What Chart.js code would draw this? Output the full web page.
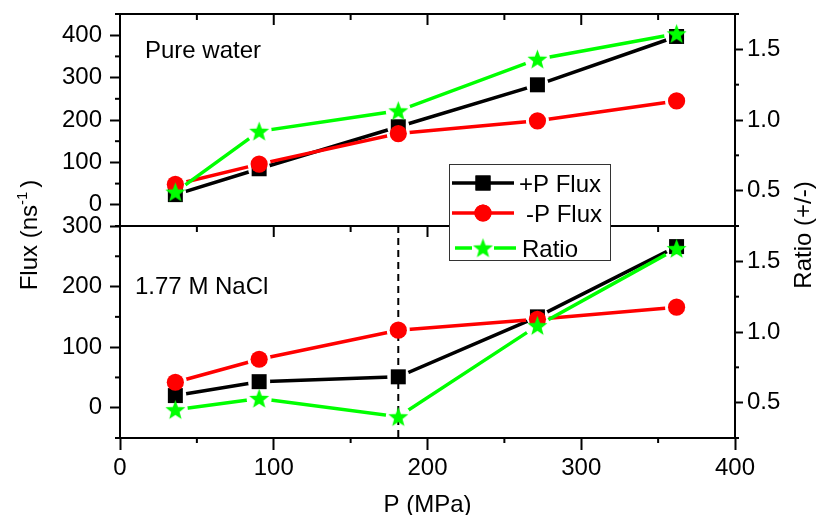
<!DOCTYPE html>
<html>
<head>
<meta charset="utf-8">
<script src="https://cdn.jsdelivr.net/npm/chart.js@4.4.1/dist/chart.umd.min.js"></script>
<style>
  html, body { margin: 0; padding: 0; background: #fff; }
  #wrap { width: 820px; height: 515px; }
</style>
</head>
<body>
<div id="wrap"><canvas id="chart" width="820" height="515"></canvas></div>
<script>
// pressure values (MPa) shared by both panels
const pressure = [36, 90.5, 181, 271.5, 362];

// top panel: pure water
const pureFluxPlus = [24, 85, 184, 283, 397];
const pureFluxMinus = [48, 96, 168, 198, 245];
const pureRatio = [0.49, 0.92, 1.065, 1.43, 1.61];

// bottom panel: 1.77 M NaCl
const naclFluxPlus = [20, 43, 51, 150, 266];
const naclFluxMinus = [42, 80, 128, 146, 166];
const naclRatio = [0.45, 0.53, 0.40, 1.045, 1.59];

const xTicks = [0, 100, 200, 300, 400];
const fluxTicksTop = [0, 100, 200, 300, 400];
const fluxTicksBottom = [0, 100, 200, 300];
const ratioTicks = [0.5, 1.0, 1.5];
const markerP = 181; // dashed guide in the NaCl panel

const FONT = '"Liberation Sans", Arial, Helvetica, sans-serif';
const GREEN = '#00ff00';
const RED = '#ff0000';

function makeStar(color, R) {
  const c = document.createElement('canvas');
  const s = Math.ceil(R * 2 + 2);
  c.width = c.height = s;
  const g = c.getContext('2d');
  g.fillStyle = color;
  g.beginPath();
  for (let i = 0; i < 10; i++) {
    const r = i % 2 ? R * 0.42 : R;
    const a = -Math.PI / 2 + i * Math.PI / 5;
    g.lineTo(s / 2 + r * Math.cos(a), s / 2 + r * Math.sin(a) + R * 0.08);
  }
  g.closePath();
  g.fill();
  return c;
}
const star = makeStar(GREEN, 10.5);

// gap: radius around each symbol where the connecting line is left out (Origin style)
const styles = {
  plus: { color: '#000', pointStyle: 'rect', pointRadius: 10.6, gap: 11, order: 6 },
  minus: { color: RED, pointStyle: 'circle', pointRadius: 8.6, gap: 11.5, order: 4 },
  ratio: { color: GREEN, pointStyle: star, pointRadius: 10, gap: 12.5, order: 2 }
};

// each series = one line dataset (with gaps) + one symbol dataset
function series(label, values, yAxisID, st) {
  const data = pressure.map((p, i) => ({ x: p, y: values[i] }));
  const common = { label, data, xAxisID: 'x', yAxisID, borderColor: st.color, backgroundColor: st.color, clip: false };
  return [
    Object.assign({}, common, { borderWidth: 3.5, pointRadius: 0, pointHoverRadius: 0, tension: 0, fill: false, gap: st.gap, order: st.order }),
    Object.assign({}, common, { showLine: false, pointStyle: st.pointStyle, pointRadius: st.pointRadius, pointHoverRadius: st.pointRadius, pointBorderWidth: 0, order: st.order - 1 })
  ];
}

function fixTicks(list) {
  return scale => { scale.ticks = list.map(v => ({ value: v })); };
}

// fixed axis size, and no extra room asked for half-height end labels
function fixSize(w) {
  return s => { s.width = w; s.paddingTop = 0; s.paddingBottom = 0; };
}

const tickFont = { family: FONT, size: 24 };
const axisGrid = len => ({ drawOnChartArea: false, tickLength: len, tickWidth: 2, tickColor: '#000' });
const axisBorder = { color: '#000', width: 2 };

function minorTicks(ctx, scale, step, len, side) {
  const majors = scale.ticks.map(t => t.value);
  for (let v = scale.min; v <= scale.max + 1e-9; v += step) {
    if (majors.some(m => Math.abs(m - v) < 1e-9)) continue;
    const p = scale.getPixelForValue(v);
    ctx.beginPath();
    if (side === 'left') { ctx.moveTo(scale.right, p); ctx.lineTo(scale.right - len, p); }
    else { ctx.moveTo(scale.left, p); ctx.lineTo(scale.left + len, p); }
    ctx.stroke();
  }
}

function label(ctx, str, x, y, size, align) {
  ctx.font = size + 'px ' + FONT;
  ctx.textAlign = align || 'left';
  ctx.textBaseline = 'alphabetic';
  ctx.fillStyle = '#000';
  ctx.fillText(str, x, y);
}

// leave the line out close to each symbol
const symbolGap = {
  id: 'symbolGap',
  beforeDatasetDraw(chart, args) {
    const ds = chart.data.datasets[args.index];
    if (!ds.gap) return;
    const ctx = chart.ctx;
    ctx.save();
    ctx.beginPath();
    ctx.rect(0, 0, chart.width, chart.height);
    args.meta.data.forEach(pt => {
      ctx.moveTo(pt.x + ds.gap, pt.y);
      ctx.arc(pt.x, pt.y, ds.gap, 0, Math.PI * 2);
    });
    ctx.clip('evenodd');
  },
  afterDatasetDraw(chart, args) {
    if (chart.data.datasets[args.index].gap) chart.ctx.restore();
  }
};

const decor = {
  id: 'decor',
  beforeDatasetsDraw(chart) {
    const { ctx } = chart;
    const x = chart.scales.x, yb = chart.scales.yBot;
    const px = x.getPixelForValue(markerP);
    ctx.save();
    ctx.strokeStyle = '#000';
    ctx.lineWidth = 2;
    ctx.setLineDash([7, 5]);
    ctx.beginPath();
    ctx.moveTo(px, yb.top);
    ctx.lineTo(px, yb.bottom);
    ctx.stroke();
    ctx.restore();
  },
  afterDraw(chart) {
    const { ctx, chartArea: ca } = chart;
    const x = chart.scales.x;
    const yt = chart.scales.yTop, yb = chart.scales.yBot;
    const rt = chart.scales.rTop, rb = chart.scales.rBot;
    ctx.save();
    ctx.strokeStyle = '#000';
    ctx.lineWidth = 2;
    ctx.lineCap = 'butt';

    // top border and panel divider
    const mid = yb.top;
    [ca.top, mid].forEach(y => {
      ctx.beginPath(); ctx.moveTo(ca.left - 1, y); ctx.lineTo(ca.right + 1, y); ctx.stroke();
    });

    // x ticks on top border and on divider (pointing down), minor ticks on bottom axis
    for (let v = 50; v < 400; v += 50) {
      const p = x.getPixelForValue(v);
      const len = v % 100 === 0 ? 11 : 6;
      [ca.top, mid].forEach(y => {
        ctx.beginPath(); ctx.moveTo(p, y); ctx.lineTo(p, y + len); ctx.stroke();
      });
      if (v % 100 !== 0) {
        ctx.beginPath(); ctx.moveTo(p, ca.bottom); ctx.lineTo(p, ca.bottom + 5); ctx.stroke();
      }
    }

    // minor ticks on the y axes
    minorTicks(ctx, yt, 50, 5, 'left');
    minorTicks(ctx, yb, 50, 5, 'left');
    minorTicks(ctx, rt, 0.25, 4, 'right');
    minorTicks(ctx, rb, 0.25, 4, 'right');

    // panel annotations
    label(ctx, 'Pure water', ca.left + 25, ca.top + 44, 24);
    label(ctx, '1.77 M NaCl', ca.left + 15, mid + 68, 24);

    // x title
    label(ctx, 'P (MPa)', (ca.left + ca.right) / 2, 512, 24, 'center');

    // left title with superscript
    ctx.save();
    ctx.translate(37, 235);
    ctx.rotate(-Math.PI / 2);
    ctx.font = '24px ' + FONT;
    const a = 'Flux (ns', b = '-1', c = ')';
    const wa = ctx.measureText(a).width, wc = ctx.measureText(c).width;
    ctx.font = '15px ' + FONT;
    const wb = ctx.measureText(b).width;
    const total = wa + wb + 4 + wc;
    const sx = -total / 2;
    label(ctx, a, sx, 0, 24);
    label(ctx, b, sx + wa, -10, 15);
    label(ctx, c, sx + wa + wb + 4, 0, 24);
    ctx.restore();

    // right title
    ctx.save();
    ctx.translate(811, 235);
    ctx.rotate(-Math.PI / 2);
    label(ctx, 'Ratio (+/-)', 0, 0, 24, 'center');
    ctx.restore();

    // legend box
    const lx = 449, ly = 164, lw = 161, lh = 96;
    ctx.fillStyle = '#fff';
    ctx.fillRect(lx, ly, lw, lh);
    ctx.lineWidth = 1;
    ctx.strokeStyle = '#333';
    ctx.strokeRect(lx + 0.5, ly + 0.5, lw, lh);
    const rows = [
      { text: '+P Flux', y: 183, tx: 519, st: styles.plus, segs: [[452, 514]] },
      { text: '-P Flux', y: 213, tx: 526, st: styles.minus, segs: [[452, 514]] },
      { text: 'Ratio', y: 248, tx: 522, st: styles.ratio, segs: [[455, 472], [494, 516]] }
    ];
    rows.forEach(r => {
      ctx.strokeStyle = r.st.color;
      ctx.fillStyle = r.st.color;
      ctx.lineWidth = 3.5;
      r.segs.forEach(([s0, s1]) => {
        ctx.beginPath(); ctx.moveTo(s0, r.y); ctx.lineTo(s1, r.y); ctx.stroke();
      });
      Chart.helpers.drawPoint(ctx, {
        pointStyle: r.st.pointStyle, radius: r.st.pointRadius, rotation: 0, borderWidth: 0
      }, 483, r.y);
      if (r.st.pointStyle === 'rect') ctx.fillRect(483 - 7.5, r.y - 7.5, 15, 15);
      if (r.st.pointStyle === 'circle') { ctx.beginPath(); ctx.arc(483, r.y, 8.6, 0, Math.PI * 2); ctx.fill(); }
      label(ctx, r.text, r.tx, r.y + 8.5, 24);
    });
    ctx.restore();
  }
};

const tickOpts = extra => Object.assign({ font: tickFont, color: '#000', autoSkip: false, maxRotation: 0 }, extra);

new Chart(document.getElementById('chart'), {
  type: 'line',
  data: {
    datasets: [].concat(
      series('+P Flux', pureFluxPlus, 'yTop', styles.plus),
      series('-P Flux', pureFluxMinus, 'yTop', styles.minus),
      series('Ratio', pureRatio, 'rTop', styles.ratio),
      series('+P Flux', naclFluxPlus, 'yBot', styles.plus),
      series('-P Flux', naclFluxMinus, 'yBot', styles.minus),
      series('Ratio', naclRatio, 'rBot', styles.ratio)
    )
  },
  options: {
    responsive: false,
    animation: false,
    devicePixelRatio: 1,
    layout: { padding: { top: 14, left: 0, right: 0, bottom: 0 } },
    plugins: { legend: { display: false }, tooltip: { enabled: false } },
    scales: {
      x: {
        type: 'linear', min: 0, max: 400,
        afterBuildTicks: fixTicks(xTicks),
        afterFit: s => { s.height = 77; },
        grid: axisGrid(12), border: axisBorder,
        ticks: tickOpts({ padding: 4 })
      },
      yBot: {
        type: 'linear', position: 'left', stack: 'L', stackWeight: 1,
        min: -50, max: 300,
        afterBuildTicks: fixTicks(fluxTicksBottom),
        afterFit: fixSize(120),
        grid: axisGrid(10), border: axisBorder,
        ticks: tickOpts({ padding: 8 })
      },
      yTop: {
        type: 'linear', position: 'left', stack: 'L', stackWeight: 1,
        min: -50, max: 450,
        afterBuildTicks: fixTicks(fluxTicksTop),
        afterFit: fixSize(120),
        grid: axisGrid(10), border: axisBorder,
        ticks: tickOpts({ padding: 8 })
      },
      rTop: {
        type: 'linear', position: 'right', stack: 'R', stackWeight: 1,
        min: 0.25, max: 1.75,
        afterBuildTicks: fixTicks(ratioTicks),
        afterFit: fixSize(85),
        grid: axisGrid(8), border: axisBorder,
        ticks: tickOpts({ padding: 4, callback: v => v.toFixed(1) })
      },
      rBot: {
        type: 'linear', position: 'right', stack: 'R', stackWeight: 1,
        min: 0.25, max: 1.75,
        afterBuildTicks: fixTicks(ratioTicks),
        afterFit: fixSize(85),
        grid: axisGrid(8), border: axisBorder,
        ticks: tickOpts({ padding: 4, callback: v => v.toFixed(1) })
      }
    }
  },
  plugins: [symbolGap, decor]
});
</script>
</body>
</html>
